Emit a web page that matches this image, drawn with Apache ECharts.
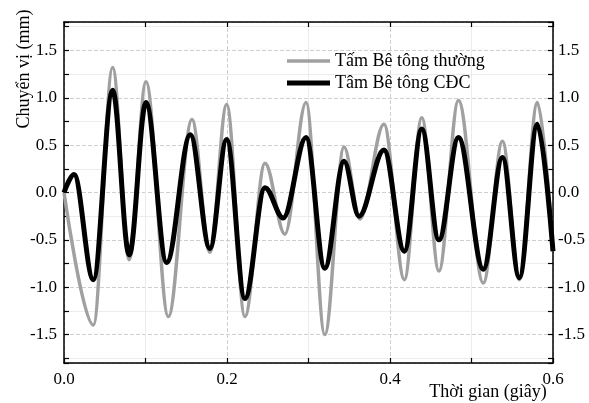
<!DOCTYPE html>
<html>
<head>
<meta charset="utf-8">
<script src="https://cdn.jsdelivr.net/npm/echarts@6/dist/echarts.min.js"></script>
<style>
  html, body { margin: 0; padding: 0; background: #fff; }
  #chart { width: 589px; height: 403px; }
</style>
</head>
<body>
<div id="chart"></div>
<script>
// Displacement series, read as turning points off the picture (time in s, displacement in mm)
const grayTime = [0, 0.036, 0.0597, 0.080, 0.1006, 0.128, 0.157, 0.179, 0.1996, 0.222, 0.2466, 0.271, 0.297, 0.320, 0.3436, 0.363, 0.3926, 0.4176, 0.439, 0.460, 0.484, 0.5145, 0.538, 0.5587, 0.5808, 0.6];
const grayDisp = [0, -1.40, 1.32, -0.71, 1.17, -1.31, 0.77, -0.63, 0.93, -1.31, 0.31, -0.44, 0.95, -1.50, 0.48, -0.28, 0.72, -0.92, 0.79, -0.83, 0.97, -0.955, 0.54, -0.92, 0.95, -0.62];

const cdcTime = [0, 0.0123, 0.036, 0.0597, 0.080, 0.1006, 0.126, 0.155, 0.179, 0.1996, 0.222, 0.2466, 0.269, 0.297, 0.320, 0.3436, 0.362, 0.3926, 0.4176, 0.439, 0.460, 0.484, 0.5145, 0.538, 0.5587, 0.5808, 0.6];
const cdcDisp = [0, 0.19, -0.92, 1.08, -0.66, 0.95, -0.74, 0.61, -0.59, 0.56, -1.12, 0.05, -0.27, 0.58, -0.80, 0.33, -0.25, 0.45, -0.62, 0.67, -0.50, 0.58, -0.81, 0.37, -0.90, 0.72, -0.62];

const seriesNames = ['Tấm Bê tông thường', 'Tâm Bê tông CĐC'];
const xLabel = 'Thời gian (giây)';
const yLabel = 'Chuyển vị (mm)';

const font = '"Liberation Serif", "Times New Roman", serif';
const grayColor = '#a0a0a0';

const frame = { show: true, onZero: false, lineStyle: { color: '#000', width: 1.5 } };
const ticksIn = { show: true, inside: true, length: 5, lineStyle: { color: '#000', width: 1.2 } };
const minorIn = { show: true, splitNumber: 2, length: 5, lineStyle: { color: '#000', width: 1.2 } };
const gridLine = { show: true, lineStyle: { color: '#cfcfcf', type: 'dashed', width: 1 } };
const minorGrid = { show: true, lineStyle: { color: '#ececec', width: 1 } };

function makeX(position, labels) {
  return {
    type: 'value', position, min: 0, max: 0.6, interval: 0.2,
    axisLine: frame, axisTick: ticksIn,
    minorTick: minorIn,
    splitLine: position === 'bottom' ? gridLine : { show: false },
    minorSplitLine: position === 'bottom' ? minorGrid : { show: false },
    axisLabel: {
      show: labels, margin: 8, color: '#000', fontFamily: font, fontSize: 17,
      formatter: v => v.toFixed(1)
    }
  };
}

function makeY(position, margin) {
  return {
    type: 'value', position, min: -1.8, max: 1.8,
    splitNumber: 7, minInterval: 0.5, maxInterval: 0.5,
    axisLine: frame, axisTick: ticksIn,
    minorTick: minorIn,
    splitLine: position === 'left' ? gridLine : { show: false },
    minorSplitLine: position === 'left' ? minorGrid : { show: false },
    axisLabel: {
      margin, color: '#000', fontFamily: font, fontSize: 17,
      showMinLabel: false, showMaxLabel: false,
      formatter: v => v.toFixed(1)
    }
  };
}

// one legend per series so each key line keeps its own thickness
function makeLegend(name, top, thickness) {
  return {
    orient: 'vertical', left: 287, top, padding: 0,
    icon: 'rect', itemWidth: 43, itemHeight: thickness,
    textStyle: { color: '#000', fontFamily: font, fontSize: 18 },
    data: [name]
  };
}

const chart = echarts.init(document.getElementById('chart'), null, { renderer: 'canvas' });

chart.setOption({
  backgroundColor: '#fff',
  animation: false,
  grid: { left: 64, right: 36, top: 22, bottom: 40 },
  xAxis: [makeX('bottom', true), makeX('top', false)],
  yAxis: [makeY('left', 7), makeY('right', 5)],
  legend: [
    makeLegend(seriesNames[0], 52, 3.5),
    makeLegend(seriesNames[1], 74, 5)
  ],
  graphic: [
    {
      type: 'text', x: 24, y: 69, rotation: Math.PI / 2,
      style: { text: yLabel, fill: '#000', font: '18px ' + font, textAlign: 'center', textVerticalAlign: 'middle' }
    },
    {
      type: 'text', x: 488, y: 392,
      style: { text: xLabel, fill: '#000', font: '18px ' + font, textAlign: 'center', textVerticalAlign: 'middle' }
    }
  ],
  series: [
    {
      name: seriesNames[0], type: 'line', symbol: 'none',
      smooth: 0.35, smoothMonotone: 'x',
      data: grayTime.map((t, i) => [t, grayDisp[i]]),
      lineStyle: { color: grayColor, width: 3.5 },
      itemStyle: { color: grayColor }
    },
    {
      name: seriesNames[1], type: 'line', symbol: 'none',
      smooth: 0.35, smoothMonotone: 'x',
      data: cdcTime.map((t, i) => [t, cdcDisp[i]]),
      lineStyle: { color: '#000', width: 5 },
      itemStyle: { color: '#000' }
    }
  ]
});
</script>
</body>
</html>
